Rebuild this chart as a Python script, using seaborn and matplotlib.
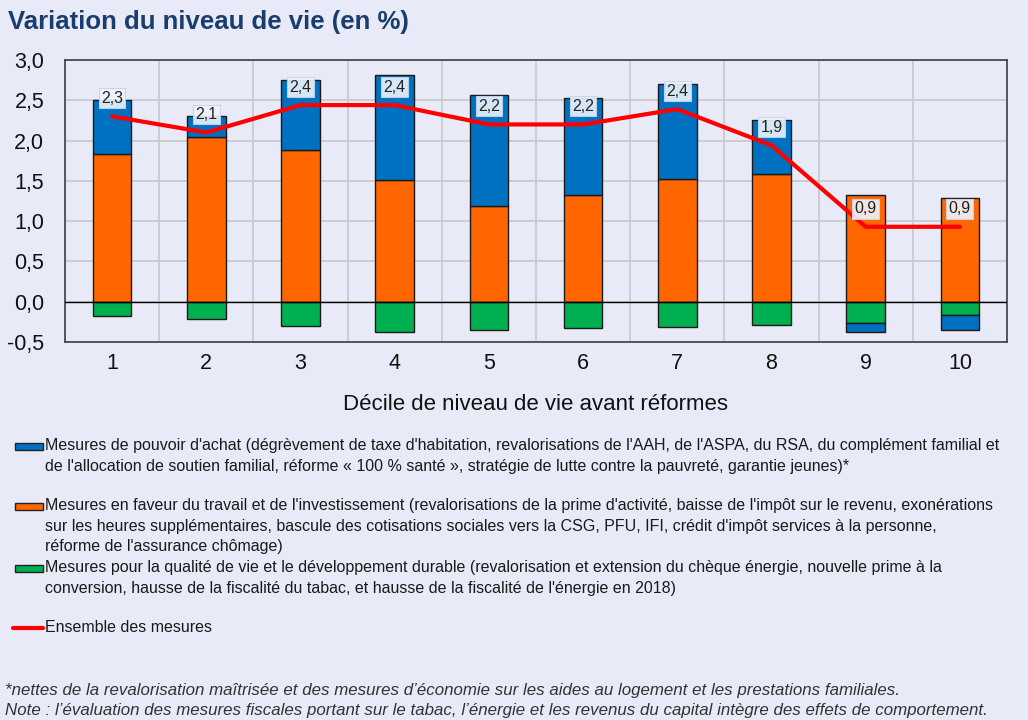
import numpy as np
import seaborn as sns
import matplotlib.pyplot as plt
from matplotlib.patches import Rectangle
from matplotlib.lines import Line2D
from matplotlib.ticker import FuncFormatter

# Données
deciles = ['1', '2', '3', '4', '5', '6', '7', '8', '9', '10']
pouvoir_achat = [0.67, 0.27, 0.87, 1.30, 1.37, 1.21, 1.18, 0.67, -0.11, -0.19]
travail = [1.83, 2.04, 1.88, 1.51, 1.19, 1.32, 1.52, 1.58, 1.32, 1.29]
qualite_vie = [-0.18, -0.21, -0.30, -0.37, -0.35, -0.33, -0.31, -0.29, -0.27, -0.16]
ensemble = [2.30, 2.10, 2.44, 2.44, 2.20, 2.20, 2.39, 1.94, 0.93, 0.93]
y_ticks = [-0.5, 0.0, 0.5, 1.0, 1.5, 2.0, 2.5, 3.0]

legend_labels = [
    "Mesures de pouvoir d'achat (dégrèvement de taxe d'habitation, revalorisations de l'AAH, de l'ASPA, du RSA, du complément familial et\n"
    "de l'allocation de soutien familial, réforme « 100 % santé », stratégie de lutte contre la pauvreté, garantie jeunes)*",
    "Mesures en faveur du travail et de l'investissement (revalorisations de la prime d'activité, baisse de l'impôt sur le revenu, exonérations\n"
    "sur les heures supplémentaires, bascule des cotisations sociales vers la CSG, PFU, IFI, crédit d'impôt services à la personne,\n"
    "réforme de l'assurance chômage)",
    "Mesures pour la qualité de vie et le développement durable (revalorisation et extension du chèque énergie, nouvelle prime à la\n"
    "conversion, hausse de la fiscalité du tabac, et hausse de la fiscalité de l'énergie en 2018)",
    "Ensemble des mesures",
]
notes = [
    "*nettes de la revalorisation maîtrisée et des mesures d’économie sur les aides au logement et les prestations familiales.",
    "Note : l’évaluation des mesures fiscales portant sur le tabac, l’énergie et les revenus du capital intègre des effets de comportement.",
]

BLUE = '#0070C0'
ORANGE = '#FF6600'
GREEN = '#00B050'
RED = '#FF0000'
BG = '#E8EBF7'

sns.set_style('white')
plt.rcParams['font.family'] = ['Liberation Sans', 'DejaVu Sans']

fig = plt.figure(figsize=(10.28, 7.2), dpi=100, facecolor=BG)
ax = fig.add_axes([0.0632, 0.525, 0.9164, 0.3917])
ax.set_facecolor(BG)

# empilement : orange et vert depuis 0, bleu au-dessus de l'orange (ou sous le vert si négatif)
blue_bottom = [t if p > 0 else q for p, t, q in zip(pouvoir_achat, travail, qualite_vie)]
bar_kw = dict(width=0.41, edgecolor='#1a1a1a', linewidth=1, saturation=1, order=deciles, ax=ax, zorder=3)
sns.barplot(x=deciles, y=travail, color=ORANGE, **bar_kw)
sns.barplot(x=deciles, y=qualite_vie, color=GREEN, **bar_kw)
sns.barplot(x=deciles, y=pouvoir_achat, bottom=blue_bottom, color=BLUE, **bar_kw)

sns.lineplot(x=np.arange(len(deciles)), y=ensemble, color=RED, linewidth=3, ax=ax, zorder=4)

for i, v in enumerate(ensemble):
    ax.annotate(f"{v:.1f}".replace('.', ','), (i, v), xytext=(0, 13), textcoords='offset points',
                ha='center', va='center', fontsize=11.5, color='#222222', zorder=5,
                bbox=dict(boxstyle='square,pad=0.15', fc='#EEF4FC', ec='#C5D5EA', lw=0.8, alpha=0.9))

ax.axhline(0, color='black', linewidth=1, zorder=3.5)
ax.set_xlim(-0.5, len(deciles) - 0.5)
ax.set_ylim(-0.5, 3.0)
ax.set_yticks(y_ticks)
ax.yaxis.set_major_formatter(FuncFormatter(lambda v, p: f"{v:.1f}".replace('.', ',')))
ax.set_xticks(np.arange(len(deciles)))
ax.set_xticklabels(deciles)
ax.set_xticks(np.arange(len(deciles) + 1) - 0.5, minor=True)
ax.grid(axis='y', which='major', color='#C8C8C8', linewidth=1.2, zorder=0)
ax.grid(axis='x', which='minor', color='#C8C8C8', linewidth=1.2, zorder=0)
ax.grid(axis='x', which='major', visible=False)
ax.set_axisbelow(True)
ax.tick_params(axis='both', which='both', length=0, labelsize=15.5, colors='#111111')
ax.tick_params(axis='y', pad=15)
ax.tick_params(axis='x', pad=8)
for s in ax.spines.values():
    s.set_color('#404040')
    s.set_linewidth(1.2)
ax.set_ylabel('')
ax.set_xlabel('Décile de niveau de vie avant réformes', fontsize=16, labelpad=14, color='#111111')

fig.text(0.008, 0.970, 'Variation du niveau de vie (en %)', fontsize=18.5, fontweight='bold',
         color='#1B3D6D', ha='left', va='center')

# légende dessinée à la main (pavés + texte multi-lignes)
W, H = 1028, 720
legend_rows = [445, 505, 567, 627]
legend_colors = [BLUE, ORANGE, GREEN, RED]
for lab, col, y in zip(legend_labels, legend_colors, legend_rows):
    if col == RED:
        fig.add_artist(Line2D([13 / W, 43 / W], [1 - 628 / H] * 2, color=RED, lw=3,
                              transform=fig.transFigure))
    else:
        fig.add_artist(Rectangle((15 / W, 1 - (y + 5) / H), 28 / W, 7 / H, facecolor=col,
                                 edgecolor='#222222', lw=1, transform=fig.transFigure))
    fig.text(45 / W, 1 - (y - 7) / H, lab, fontsize=11.5, color='#1a1a1a', ha='left', va='top',
             linespacing=1.47)

for k, n in enumerate(notes):
    fig.text(5 / W, 1 - (690 + 20 * k) / H, n, fontsize=12.2, style='italic', color='#333333',
             ha='left', va='center')

fig.savefig('out.png', dpi=100, facecolor=BG)
